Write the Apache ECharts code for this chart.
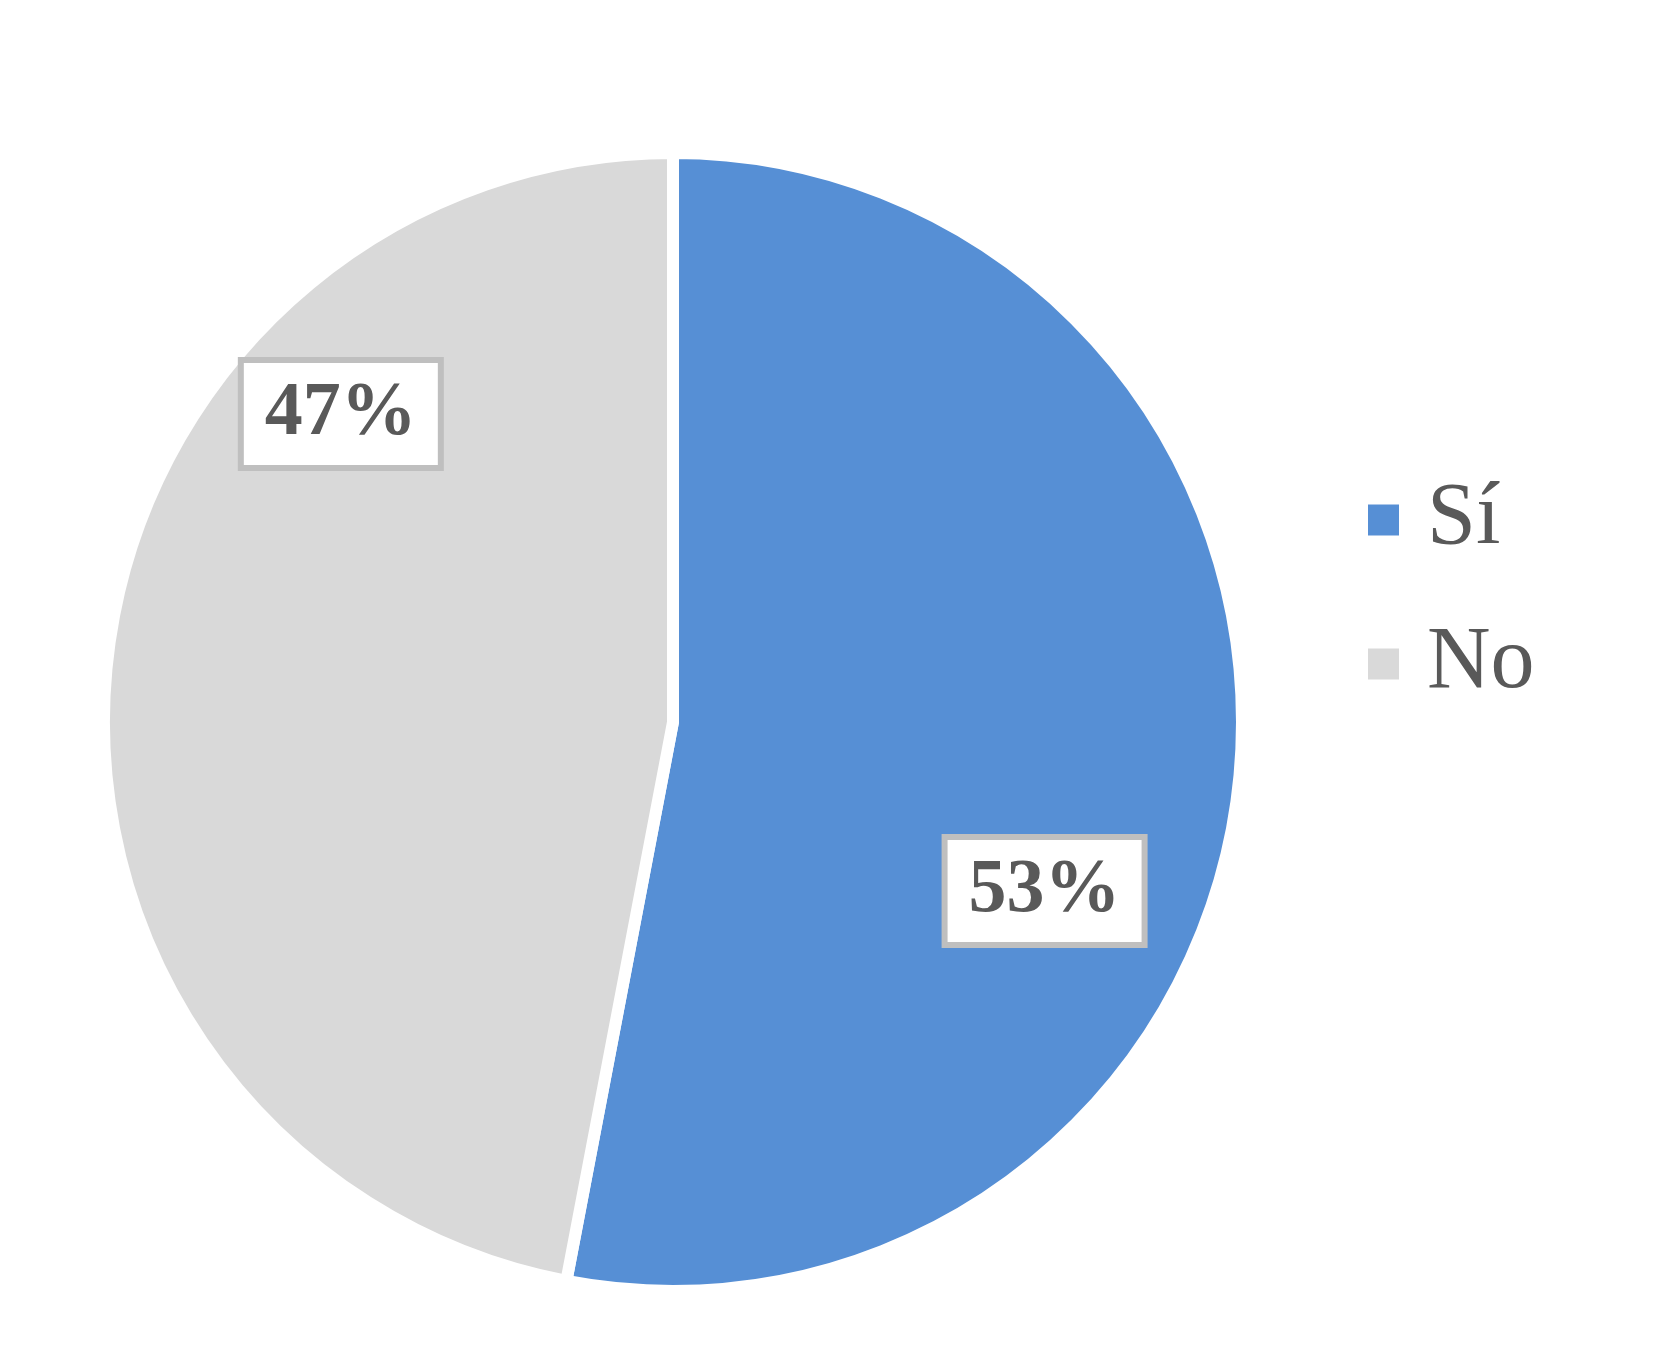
<!DOCTYPE html>
<html>
<head>
<meta charset="utf-8">
<script src="https://cdn.jsdelivr.net/npm/echarts@6/dist/echarts.min.js"></script>
<style>
html,body{margin:0;padding:0;background:#fff;}
#main{width:1678px;height:1363px;}
</style>
</head>
<body>
<div id="main"></div>
<script>
const categories = ['Sí', 'No'];
const values = [53, 47];
const colors = ['#568FD5', '#D9D9D9'];

const CX = 673, CY = 722, R = 569;
// label anchor offsets (fraction of radius) relative to pie centre
const labelOffsets = [[0.660, 0.300], [-0.590, -0.547]];

const chart = echarts.init(document.getElementById('main'));
chart.setOption({
  backgroundColor: '#ffffff',
  animation: false,
  legend: {
    orient: 'vertical',
    left: 1366,
    top: 468,
    padding: 0,
    itemWidth: 33,
    itemHeight: 33,
    itemGap: 40,
    icon: 'rect',
    data: categories,
    textStyle: {
      fontFamily: 'Liberation Serif',
      fontSize: 88,
      lineHeight: 80,
      color: '#595959',
      padding: [24, 0, 0, 22]
    }
  },
  series: [{
    type: 'pie',
    center: [CX, CY],
    radius: R,
    startAngle: 90,
    clockwise: true,
    itemStyle: { borderColor: '#ffffff', borderWidth: 12 },
    label: {
      show: true,
      position: 'inside',
      formatter: p => p.value + '%',
      fontFamily: 'Liberation Serif',
      fontWeight: 'bold',
      fontSize: 76,
      lineHeight: 72,
      color: '#595959',
      backgroundColor: '#ffffff',
      borderColor: '#BFBFBF',
      borderWidth: 6,
      padding: [17, 21, 13, 21]
    },
    labelLine: { show: false },
    labelLayout: function (params) {
      const o = labelOffsets[params.dataIndex];
      return { x: CX + o[0] * (R - 6), y: CY + o[1] * (R - 6), align: 'center', verticalAlign: 'middle' };
    },
    data: categories.map((c, i) => ({ name: c, value: values[i], itemStyle: { color: colors[i] } }))
  }]
});
</script>
</body>
</html>
